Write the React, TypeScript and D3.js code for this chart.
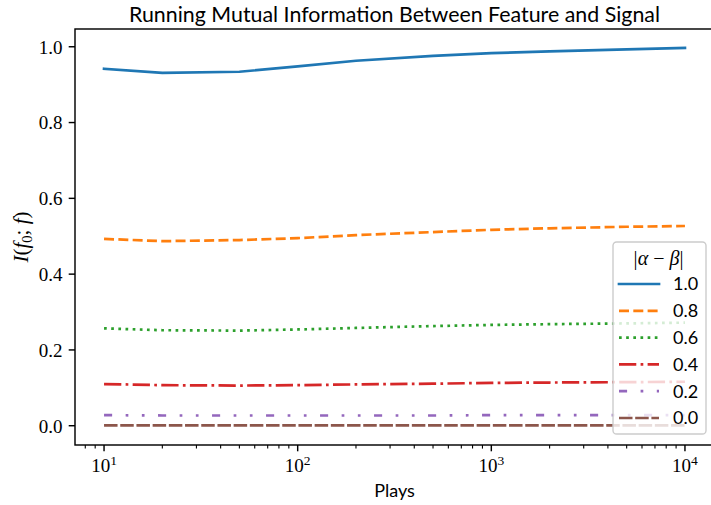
import React from "react";
import * as d3 from "d3";

const plays = [10, 20, 50, 100, 200, 500, 1000, 2000, 5000, 10000];
const seriesLabels = ["1.0", "0.8", "0.6", "0.4", "0.2", "0.0"];
const mi10 = [0.942, 0.931, 0.934, 0.948, 0.963, 0.976, 0.983, 0.988, 0.993, 0.997];
const mi08 = [0.493, 0.487, 0.490, 0.495, 0.503, 0.511, 0.517, 0.521, 0.525, 0.527];
const mi06 = [0.257, 0.252, 0.251, 0.254, 0.258, 0.263, 0.266, 0.268, 0.270, 0.272];
const mi04 = [0.110, 0.107, 0.106, 0.107, 0.109, 0.111, 0.113, 0.114, 0.115, 0.116];
const mi02 = [0.028, 0.027, 0.027, 0.027, 0.027, 0.027, 0.028, 0.028, 0.028, 0.028];
const mi00 = [0.001, 0.001, 0.001, 0.001, 0.001, 0.001, 0.001, 0.001, 0.001, 0.001];
const yTicks = [0, 0.2, 0.4, 0.6, 0.8, 1.0];
const xMajor = [10, 100, 1000, 10000];
const xExp = ["1", "2", "3", "4"];

const colors = ["#1f77b4", "#ff7f0e", "#2ca02c", "#d62728", "#9467bd", "#8c564b"];
const LW = 2.7;
const dashes = [
  "none",
  `${3.7 * LW} ${1.6 * LW}`,
  `${1 * LW} ${1.65 * LW}`,
  `${6.4 * LW} ${1.6 * LW} ${1 * LW} ${1.6 * LW}`,
  `${3 * LW} ${5 * LW} ${1 * LW} ${5 * LW} ${1 * LW} ${5 * LW}`,
  `${5 * LW} ${1 * LW}`,
];

const L = 75, R = 714, T = 29, B = 445;
const SERIF = "'Liberation Serif', 'DejaVu Serif', serif";
const SANS = "Lato, 'Open Sans', sans-serif";

export default function App() {
  const all = [mi10, mi08, mi06, mi04, mi02, mi00];
  const x = d3.scaleLog().domain([Math.pow(10, 0.85), Math.pow(10, 4.15)]).range([L, R]);
  const yMin = 0, yMax = d3.max(all.flat())!;
  const span = yMax - yMin;
  const y = d3.scaleLinear().domain([yMin - 0.05 * span - 0.001, yMax + 0.05 * span]).range([B, T]);
  const line = d3.line<[number, number]>().x(d => x(d[0])).y(d => y(d[1]));

  const minor: number[] = [];
  for (let e = 0; e <= 4; e++) {
    for (let m = 2; m <= 9; m++) {
      const v = m * Math.pow(10, e);
      if (v >= x.domain()[0] && v <= x.domain()[1]) minor.push(v);
    }
  }

  const legX = 613, legY = 242, legW = 93, legH = 192;
  const rowY0 = 284, rowDy = 26.8;

  return (
    <svg width={711} height={505} style={{ position: "fixed", left: 0, top: 0 }}>
      <rect x={0} y={0} width={711} height={505} fill="#fff" />
      <text x={(L + R) / 2} y={22} textAnchor="middle" fontFamily={SANS} fontSize={21.6} textLength={531} lengthAdjust="spacingAndGlyphs" fill="#000">
        Running Mutual Information Between Feature and Signal
      </text>

      <g>
        {all.map((vals, i) => (
          <path key={i} d={line(plays.map((p, j) => [p, vals[j]] as [number, number]))!}
            fill="none" stroke={colors[i]} strokeWidth={LW}
            strokeDasharray={dashes[i]} strokeLinecap={i === 0 ? "square" : "butt"} />
        ))}
      </g>

      {/* spines */}
      <rect x={L} y={T} width={R - L} height={B - T} fill="none" stroke="#000" strokeWidth={1.44} />

      {/* y ticks */}
      {yTicks.map(t => (
        <g key={t}>
          <line x1={L - 6.3} x2={L} y1={y(t)} y2={y(t)} stroke="#000" strokeWidth={1.44} />
          <text x={L - 12.6} y={y(t)} dy="0.36em" textAnchor="end" fontFamily={SERIF} fontSize={19} fill="#000">{t.toFixed(1)}</text>
        </g>
      ))}

      {/* x ticks */}
      {minor.map(v => (
        <line key={v} x1={x(v)} x2={x(v)} y1={B} y2={B + 3.6} stroke="#000" strokeWidth={1.1} />
      ))}
      {xMajor.map((v, i) => (
        <g key={v}>
          <line x1={x(v)} x2={x(v)} y1={B} y2={B + 6.3} stroke="#000" strokeWidth={1.44} />
          <text x={x(v)} y={472} textAnchor="middle" fontFamily={SERIF} fontSize={19} fill="#000">
            10<tspan fontSize={13.5} dy={-7.5}>{xExp[i]}</tspan>
          </text>
        </g>
      ))}

      <text x={(L + R) / 2} y={497} textAnchor="middle" fontFamily={SANS} fontSize={18} fill="#000">Plays</text>

      <text transform={`translate(28,${(T + B) / 2}) rotate(-90)`} textAnchor="middle" fontFamily={SERIF} fontSize={21} fill="#000">
        <tspan fontStyle="italic">I</tspan>(<tspan fontStyle="italic">f</tspan><tspan fontSize={14.5} dy={4}>0</tspan><tspan dy={-4}>; </tspan><tspan fontStyle="italic">f</tspan>)
      </text>

      {/* legend */}
      <rect x={legX} y={legY} width={legW} height={legH} rx={3.6} fill="#fff" fillOpacity={0.8} stroke="#cccccc" strokeWidth={1.4} />
      <text x={legX + legW / 2 - 1} y={265} textAnchor="middle" fontFamily={SERIF} fontSize={20} fill="#000">
        |<tspan fontStyle="italic">α</tspan> − <tspan fontStyle="italic">β</tspan>|
      </text>
      {seriesLabels.map((lab, i) => {
        const yy = rowY0 + i * rowDy;
        return (
          <g key={lab}>
            <line x1={619} x2={659} y1={yy} y2={yy} stroke={colors[i]} strokeWidth={LW}
              strokeDasharray={dashes[i]} strokeLinecap={i === 0 ? "square" : "butt"} />
            <text x={673} y={yy} dy="0.36em" fontFamily={SANS} fontSize={18} fill="#000">{lab}</text>
          </g>
        );
      })}
    </svg>
  );
}
